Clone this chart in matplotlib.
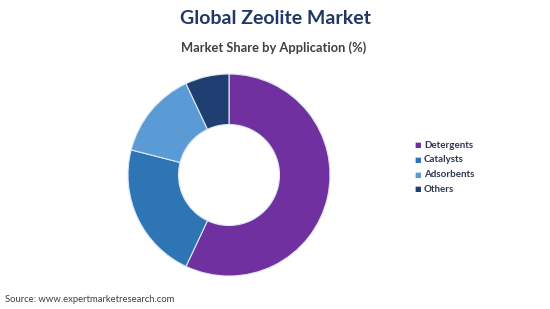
import matplotlib
matplotlib.use('Agg')
import matplotlib.pyplot as plt

labels = ['Detergents', 'Catalysts', 'Adsorbents', 'Others']
shares = [57, 22, 14, 7]
colors = ['#7030A0', '#2E75B6', '#5B9BD5', '#1F3F73']

plt.rcParams['font.family'] = ['Lato', 'DejaVu Sans']

fig = plt.figure(figsize=(5.5, 3.09), dpi=100)

ax = fig.add_axes([128 / 550, 33 / 309, 202 / 550, 202 / 309])
ax.pie(shares, colors=colors, startangle=90, counterclock=False, radius=1,
       wedgeprops=dict(width=0.5, edgecolor='#DDE6F2', linewidth=0.8))
ax.set_xlim(-1, 1)
ax.set_ylim(-1, 1)
ax.set_aspect('equal')

fig.text(0.5, 1 - 18 / 309, 'Global Zeolite Market', ha='center', va='center',
         fontsize=14, fontweight='bold', color='#1F3864')
fig.text(0.497, 1 - 48 / 309, 'Market Share by Application (%)', ha='center', va='center',
         fontsize=9.3, fontweight='bold', color='#404040')

for i, (lab, col) in enumerate(zip(labels, colors)):
    y = 1 - (145 + i * 14.8) / 309
    fig.text(418 / 550, y, '\u25A0', ha='center', va='center', fontsize=5, color=col,
             family='DejaVu Sans')
    fig.text(424 / 550, y, lab, ha='left', va='center', fontsize=7,
             fontweight='bold', color='#2F3650')

fig.text(5 / 550, 1 - 300 / 309, 'Source: www.expertmarketresearch.com', ha='left',
         va='center', fontsize=6.8, color='#404040')

fig.savefig('out.png', dpi=100)
